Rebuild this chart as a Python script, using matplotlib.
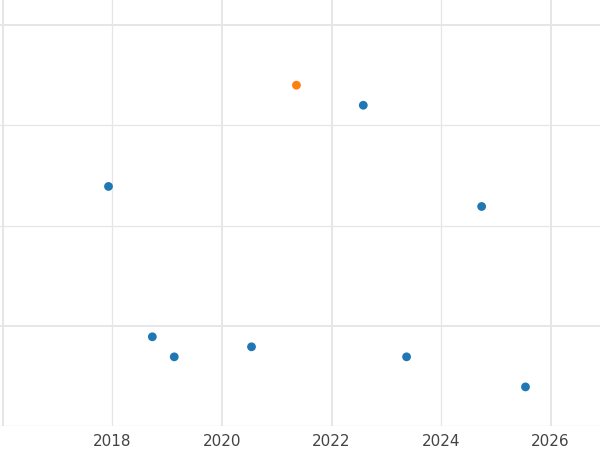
import matplotlib as mpl
mpl.use("Agg")
import matplotlib.pyplot as plt

years = [2017.93, 2018.73, 2019.13, 2020.54, 2021.36, 2022.58, 2023.37, 2024.74, 2025.54]
values = [2.39, 0.89, 0.69, 0.79, 3.40, 3.20, 0.69, 2.19, 0.39]
colors = ["#1f77b4"] * 9
colors[4] = "#ff7f0e"
xticks = [2018, 2020, 2022, 2024, 2026]

fig = plt.figure(figsize=(6, 4.5), dpi=100)
ax = fig.add_axes([0, 24 / 450, 1, 1 - 24 / 450])
ax.set_xlim(2015.95, 2026.9)
ax.set_ylim(0, 4.25)
for x in [2016, 2018, 2020, 2022, 2024, 2026]:
    ax.axvline(x, color="#e6e6e6", lw=1.4 if x in (2016, 2020, 2022, 2026) else 0.9, zorder=0)
for y in [0, 1, 2, 3, 4]:
    ax.axhline(y, color="#e6e6e6", lw=1.4 if y in (1, 4) else 0.9, zorder=0)
ax.scatter(years, values, c=colors, s=40, zorder=3, edgecolors="none")
ax.set_xticks(xticks)
ax.set_xticklabels([str(t) for t in xticks], fontsize=11, color="#444444")
ax.set_yticks([])
ax.tick_params(axis="x", length=0, pad=6)
for s in ax.spines.values():
    s.set_visible(False)
fig.savefig("out.png", dpi=100)
